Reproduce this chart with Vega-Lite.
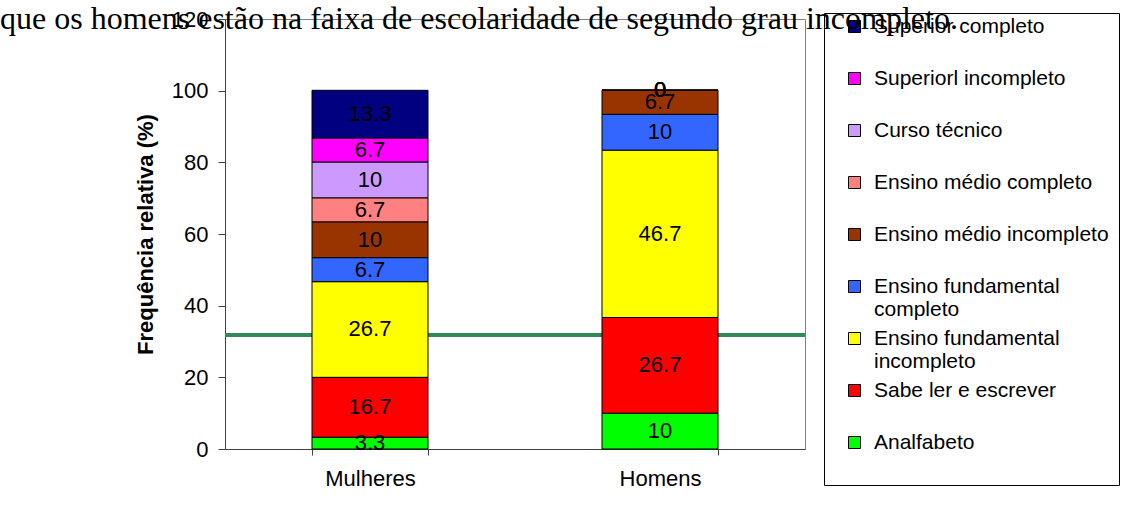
{
  "$schema": "https://vega.github.io/schema/vega-lite/v6.json",
  "width": 580,
  "height": 430,
  "autosize": {"type": "none"},
  "padding": {"left": 225, "top": 19, "right": 326, "bottom": 62},
  "background": "white",
  "title": {
    "text": "que os homens estão na faixa de escolaridade de segundo grau incompleto.",
    "orient": "top",
    "anchor": "start",
    "frame": "group",
    "font": "Liberation Serif",
    "fontSize": 32,
    "fontWeight": "normal",
    "color": "black",
    "baseline": "alphabetic",
    "dx": -225,
    "dy": 45,
    "offset": -8
  },
  "config": {
    "view": {"stroke": "#808080", "strokeWidth": 1},
    "font": "Liberation Sans"
  },
  "data": {
    "values": [
      {"grupo": "Mulheres", "nivel": "Analfabeto", "ord": 1, "value": 3.3, "label": "3.3"},
      {"grupo": "Mulheres", "nivel": "Sabe ler e escrever", "ord": 2, "value": 16.7, "label": "16.7"},
      {"grupo": "Mulheres", "nivel": "Ensino fundamental incompleto", "ord": 3, "value": 26.7, "label": "26.7"},
      {"grupo": "Mulheres", "nivel": "Ensino fundamental completo", "ord": 4, "value": 6.7, "label": "6.7"},
      {"grupo": "Mulheres", "nivel": "Ensino médio incompleto", "ord": 5, "value": 10, "label": "10"},
      {"grupo": "Mulheres", "nivel": "Ensino médio completo", "ord": 6, "value": 6.7, "label": "6.7"},
      {"grupo": "Mulheres", "nivel": "Curso técnico", "ord": 7, "value": 10, "label": "10"},
      {"grupo": "Mulheres", "nivel": "Superiorl incompleto", "ord": 8, "value": 6.7, "label": "6.7"},
      {"grupo": "Mulheres", "nivel": "Superior completo", "ord": 9, "value": 13.3, "label": "13.3"},
      {"grupo": "Homens", "nivel": "Analfabeto", "ord": 1, "value": 10, "label": "10"},
      {"grupo": "Homens", "nivel": "Sabe ler e escrever", "ord": 2, "value": 26.7, "label": "26.7"},
      {"grupo": "Homens", "nivel": "Ensino fundamental incompleto", "ord": 3, "value": 46.7, "label": "46.7"},
      {"grupo": "Homens", "nivel": "Ensino fundamental completo", "ord": 4, "value": 10, "label": "10"},
      {"grupo": "Homens", "nivel": "Ensino médio incompleto", "ord": 5, "value": 6.7, "label": "6.7"},
      {"grupo": "Homens", "nivel": "Ensino médio completo", "ord": 6, "value": 0, "label": "0"},
      {"grupo": "Homens", "nivel": "Curso técnico", "ord": 7, "value": 0, "label": "0"},
      {"grupo": "Homens", "nivel": "Superiorl incompleto", "ord": 8, "value": 0, "label": "0"},
      {"grupo": "Homens", "nivel": "Superior completo", "ord": 9, "value": 0, "label": "0"}
    ]
  },
  "layer": [
    {
      "mark": {"type": "rule", "color": "#2e8b57", "strokeWidth": 4},
      "encoding": {
        "y": {"datum": 31.8, "type": "quantitative", "scale": {"domain": [0, 120]}}
      }
    },
    {
      "mark": {"type": "bar", "stroke": "black", "strokeWidth": 1},
      "encoding": {
        "x": {
          "field": "grupo",
          "type": "nominal",
          "sort": ["Mulheres", "Homens"],
          "scale": {"paddingInner": 0.6, "paddingOuter": 0.3},
          "axis": {
            "title": null,
            "labelAngle": 0,
            "labelFont": "Liberation Sans",
            "labelFontSize": 22,
            "labelColor": "black",
            "labelPadding": 13,
            "tickBand": "extent",
            "tickSize": 6,
            "tickColor": "#404040",
            "domainColor": "#404040",
            "domainWidth": 1
          }
        },
        "y": {
          "field": "value",
          "type": "quantitative",
          "stack": "zero",
          "scale": {"domain": [0, 120], "nice": false},
          "axis": {
            "title": "Frequência relativa (%)",
            "titleFont": "Liberation Sans",
            "titleFontSize": 22,
            "titleFontWeight": "bold",
            "titleColor": "black",
            "titlePadding": 14,
            "values": [0, 20, 40, 60, 80, 100, 120],
            "grid": false,
            "labelFont": "Liberation Sans",
            "labelFontSize": 22,
            "labelColor": "black",
            "labelPadding": 10,
            "tickSize": 7,
            "tickColor": "#404040",
            "domainColor": "#404040"
          }
        },
        "order": {"field": "ord", "type": "quantitative", "sort": "ascending"},
        "color": {
          "field": "nivel",
          "type": "nominal",
          "scale": {
            "domain": [
              "Superior completo",
              "Superiorl incompleto",
              "Curso técnico",
              "Ensino médio completo",
              "Ensino médio incompleto",
              "Ensino fundamental completo",
              "Ensino fundamental incompleto",
              "Sabe ler e escrever",
              "Analfabeto"
            ],
            "range": ["#000080", "#FF00FF", "#CC99FF", "#FF8080", "#993300", "#3366FF", "#FFFF00", "#FF0000", "#00FF00"]
          },
          "legend": {
            "orient": "none",
            "legendX": 599,
            "legendY": -6,
            "direction": "vertical",
            "columns": 1,
            "gridAlign": "all",
            "title": "_____________________________________",
            "titleOpacity": 0,
            "titleOrient": "bottom",
            "titleFont": "Liberation Sans",
            "titleFontSize": 14,
            "titleFontWeight": "normal",
            "titlePadding": 15,
            "titleLimit": 400,
            "labelFont": "Liberation Sans",
            "labelFontSize": 21,
            "labelColor": "black",
            "labelLimit": 400,
            "labelExpr": "datum.label == 'Ensino fundamental completo' ? ['Ensino fundamental', 'completo'] : datum.label == 'Ensino fundamental incompleto' ? ['Ensino fundamental', 'incompleto'] : datum.label",
            "symbolType": "square",
            "symbolSize": 144,
            "symbolStrokeColor": "black",
            "symbolStrokeWidth": 1,
            "symbolOpacity": 1,
            "symbolOffset": 17,
            "labelOffset": 9,
            "rowPadding": 7,
            "padding": 3,
            "strokeColor": "black"
          }
        }
      }
    },
    {
      "transform": [
        {"stack": "value", "groupby": ["grupo"], "sort": [{"field": "ord", "order": "ascending"}], "as": ["y0", "y1"]},
        {"calculate": "(datum.y0 + datum.y1) / 2", "as": "mid"}
      ],
      "mark": {"type": "text", "font": "Liberation Sans", "fontSize": 22, "color": "black", "baseline": "middle", "align": "center"},
      "encoding": {
        "x": {"field": "grupo", "type": "nominal", "sort": ["Mulheres", "Homens"]},
        "y": {"field": "mid", "type": "quantitative"},
        "text": {"field": "label"}
      }
    }
  ]
}
